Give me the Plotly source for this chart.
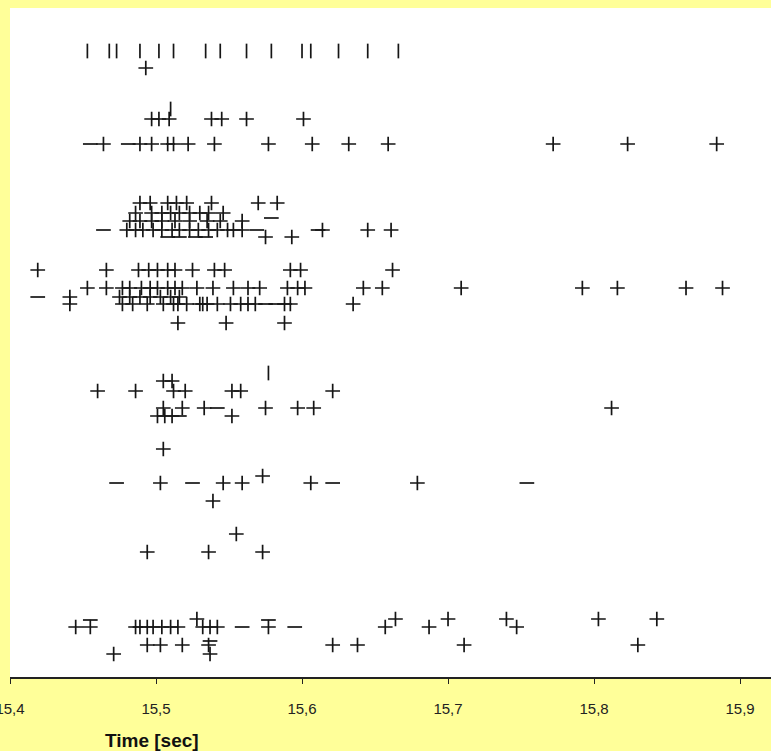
import plotly.graph_objects as go

# ---- data (time in seconds, level = row position) ----
cross_levels = [60.9, 55.8, 53.3, 47.4, 46.4, 45.6, 44.7, 44.0, 40.7, 38.9, 38.0, 37.3,
                35.4, 29.6, 28.6, 26.9, 26.1, 22.8, 20.1, 19.4, 17.6, 14.3, 12.5,
                5.8, 5.0, 3.2, 2.3]
cross_times = [
    [15.493],
    [15.497, 15.502, 15.509, 15.538, 15.545, 15.562, 15.601],
    [15.464, 15.489, 15.497, 15.508, 15.512, 15.522, 15.540, 15.577, 15.607, 15.632,
     15.659, 15.772, 15.823, 15.884],
    [15.489, 15.496, 15.508, 15.514, 15.521, 15.538, 15.570, 15.583],
    [15.486, 15.497, 15.504, 15.510, 15.516, 15.523, 15.530, 15.536, 15.546],
    [15.482, 15.489, 15.497, 15.504, 15.513, 15.523, 15.535, 15.544, 15.559],
    [15.480, 15.486, 15.491, 15.498, 15.504, 15.511, 15.516, 15.523, 15.529, 15.536,
     15.542, 15.549, 15.553, 15.559, 15.614, 15.645, 15.661],
    [15.575, 15.593],
    [15.419, 15.466, 15.488, 15.495, 15.501, 15.508, 15.513, 15.525, 15.540, 15.547,
     15.592, 15.599, 15.662],
    [15.453, 15.466, 15.477, 15.482, 15.490, 15.496, 15.501, 15.508, 15.513, 15.518,
     15.528, 15.539, 15.553, 15.563, 15.571, 15.590, 15.597, 15.602, 15.642, 15.655,
     15.709, 15.792, 15.816, 15.863, 15.888],
    [15.441, 15.475, 15.482, 15.489, 15.496, 15.503, 15.510, 15.516],
    [15.441, 15.477, 15.484, 15.494, 15.505, 15.512, 15.515, 15.521, 15.530, 15.532,
     15.535, 15.542, 15.551, 15.558, 15.563, 15.568, 15.588, 15.592, 15.635],
    [15.515, 15.548, 15.588],
    [15.505, 15.511],
    [15.460, 15.486, 15.512, 15.520, 15.552, 15.558, 15.621],
    [15.505, 15.518, 15.533, 15.575, 15.597, 15.608, 15.812],
    [15.501, 15.506, 15.511, 15.552],
    [15.505],
    [15.573],
    [15.503, 15.546, 15.559, 15.606, 15.679],
    [15.539],
    [15.555],
    [15.494, 15.536, 15.573],
    [15.528, 15.664, 15.700, 15.740, 15.803, 15.843],
    [15.445, 15.455, 15.486, 15.489, 15.494, 15.498, 15.504, 15.510, 15.515, 15.532,
     15.537, 15.542, 15.577, 15.657, 15.687, 15.747],
    [15.494, 15.503, 15.518, 15.536, 15.621, 15.638, 15.711, 15.830],
    [15.471, 15.537],
]

tick_levels = [62.6, 56.8, 30.4]
tick_times = [
    [15.453, 15.468, 15.473, 15.489, 15.502, 15.512, 15.534, 15.544, 15.562, 15.579,
     15.600, 15.606, 15.625, 15.645, 15.666],
    [15.510],
    [15.577],
]

dash_levels = [53.3, 45.9, 44.7, 44.0, 38.0, 37.3, 26.9, 26.1, 19.4, 5.7, 5.0, 3.6]
dash_times = [
    [15.455, 15.481],
    [15.579],
    [15.464, 15.569, 15.611],
    [15.508, 15.516, 15.527, 15.534],
    [15.419],
    [15.575, 15.582],
    [15.542],
    [15.516],
    [15.473, 15.525, 15.621, 15.754],
    [15.455, 15.577],
    [15.559, 15.595],
    [15.537],
]

x_ticks = [15.4, 15.5, 15.6, 15.7, 15.8, 15.9]
x_title = "Time [sec]"


def flatten(levels, times):
    xs, ys = [], []
    for lv, ts in zip(levels, times):
        for t in ts:
            xs.append(t)
            ys.append(lv)
    return xs, ys


INK = "#151515"
fig = go.Figure()
for levels, times, sym in [(cross_levels, cross_times, "cross-thin"),
                           (tick_levels, tick_times, "line-ns"),
                           (dash_levels, dash_times, "line-ew")]:
    xs, ys = flatten(levels, times)
    fig.add_trace(go.Scatter(
        x=xs, y=ys, mode="markers",
        marker=dict(symbol=sym, size=10.5, color=INK,
                    line=dict(color=INK, width=1.7)),
        showlegend=False, hoverinfo="skip"))

fig.update_layout(
    width=771, height=751,
    margin=dict(l=10, r=0, t=8, b=74),
    paper_bgcolor="#FFFF99",
    plot_bgcolor="#FFFFFF",
    separators=",.",
    xaxis=dict(range=[15.4, 15.9212], tickvals=x_ticks, tickformat=".1f",
               showgrid=False, zeroline=False, showline=True, linecolor="#222",
               linewidth=1.5, ticks="outside", ticklen=5, tickcolor="#222",
               tickfont=dict(family="Liberation Sans, Arial", size=15, color="#222"),
               ticklabelstandoff=12, ticklabeloverflow="allow", automargin=False),
    yaxis=dict(range=[0, 66.9], visible=False, showgrid=False, zeroline=False,
               automargin=False),
    annotations=[dict(text="<b>" + x_title + "</b>", xref="paper", yref="paper",
                      x=(103 - 10) / 761, y=-(740 - 677) / 669,
                      xanchor="left", yanchor="middle", showarrow=False,
                      font=dict(family="Liberation Sans, Arial", size=19, color="#111"))],
)

fig.write_html("out.html", config={"displayModeBar": False},
               post_script="document.body.style.margin='0';document.body.style.overflow='hidden';")
